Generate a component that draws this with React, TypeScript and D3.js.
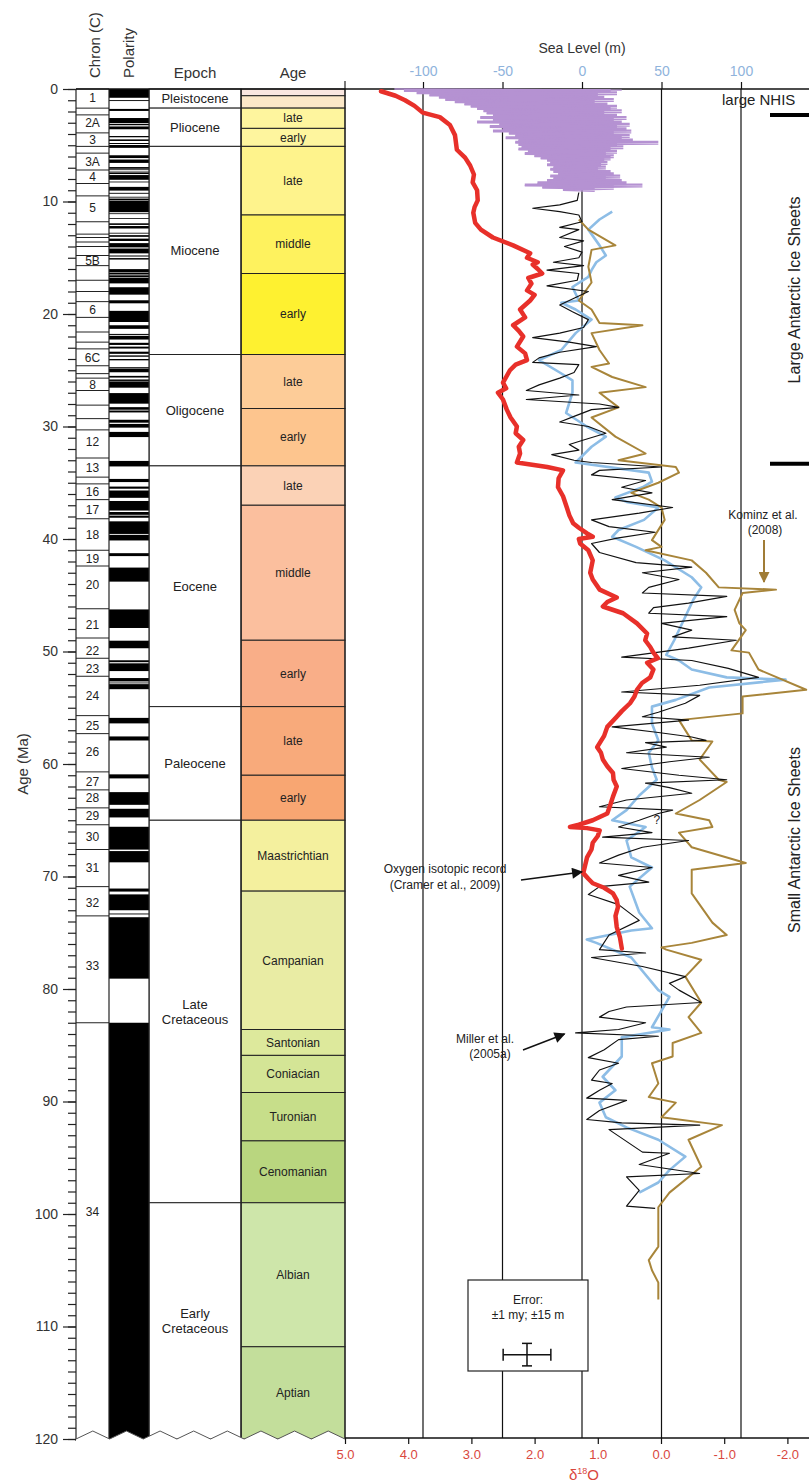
import { useEffect, useRef } from 'react';
import * as d3 from 'd3';

type Pt = [number, number];

// ---- time scale columns (ages in Ma) ----
const epochNames = ['Pleistocene', 'Pliocene', 'Miocene', 'Oligocene', 'Eocene', 'Paleocene', 'Late|Cretaceous', 'Early|Cretaceous'];
const epochBounds = [0, 1.7, 5.1, 23.6, 33.5, 54.9, 65.0, 99.0, 120];

const stageNames = ['', '', 'late', 'early', 'late', 'middle', 'early', 'late', 'early', 'late', 'middle', 'early', 'late', 'early',
  'Maastrichtian', 'Campanian', 'Santonian', 'Coniacian', 'Turonian', 'Cenomanian', 'Albian', 'Aptian'];
const stageBounds = [0, 0.6, 1.7, 3.5, 5.1, 11.2, 16.4, 23.6, 28.4, 33.5, 37.0, 49.0, 54.9, 61.0, 65.0, 71.3, 83.6, 85.9, 89.2, 93.5, 99.0, 111.8, 120];
const stageColors = ['#fae7e0', '#fce8c8', '#fef59e', '#fef59e', '#fef38c', '#fef25e', '#fef130', '#fdcc98', '#fdc58e', '#fbd2b6', '#fbbf9e',
  '#f9ae88', '#f8aa7b', '#f8a672', '#f4f09e', '#e9eca4', '#dde99c', '#d4e596', '#c7de8a', '#b9d67f', '#cee6aa', '#c3de9b'];

const chronBounds = [0, 1.7, 2.3, 3.9, 5.1, 5.7, 7.2, 8.4, 9.5, 11.8, 12.9, 13.2, 13.6, 14.0, 14.8, 15.7, 17.0, 18.0, 18.9, 20.3, 21.6,
  22.5, 23.1, 24.6, 25.3, 25.7, 26.8, 28.1, 29.3, 30.3, 32.8, 34.5, 35.1, 36.5, 38.2, 41.0, 42.4, 46.2, 48.8, 50.6, 52.2, 55.7, 57.3,
  60.7, 62.3, 63.9, 65.4, 67.6, 70.9, 73.5, 83.0, 120];
const chronLabels = ['1', '2A', '3', '3A', '4', '5', '5B', '6', '6C', '8', '12', '13', '16', '17', '18', '19', '20', '21', '22', '23',
  '24', '25', '26', '27', '28', '29', '30', '31', '32', '33', '34'];
const chronLabelAges = [0.8, 3.0, 4.5, 6.5, 7.8, 10.6, 15.3, 19.6, 23.9, 26.3, 31.4, 33.7, 35.8, 37.4, 39.6, 41.8, 44.1, 47.6, 49.9, 51.5,
  53.9, 56.6, 58.9, 61.6, 63.0, 64.6, 66.5, 69.2, 72.3, 77.9, 99.8];

// normal polarity intervals [top, bottom] in Ma
const normalPolarity: Pt[] = [[0, 0.78], [0.99, 1.07], [1.77, 1.95], [2.58, 3.04], [3.11, 3.22], [3.33, 3.58], [4.18, 4.29], [4.48, 4.62],
  [4.8, 4.89], [4.98, 5.23], [5.89, 6.14], [6.27, 6.57], [6.94, 7.09], [7.14, 7.17], [7.34, 7.38], [7.43, 7.56], [7.65, 8.07], [8.23, 8.26],
  [8.7, 9.03], [9.23, 9.31], [9.58, 9.64], [9.74, 9.88], [9.92, 10.95], [11.05, 11.1], [11.48, 11.53], [11.94, 12.08], [12.18, 12.4],
  [12.78, 12.82], [12.99, 13.14], [13.3, 13.51], [13.7, 14.08], [14.18, 14.61], [14.8, 14.89], [15.03, 15.16], [16.01, 16.29], [16.33, 16.49],
  [16.56, 16.73], [16.78, 17.28], [17.62, 18.28], [18.78, 19.05], [19.72, 20.71], [21.0, 21.32], [21.77, 21.86], [21.94, 22.27], [22.56, 22.75],
  [22.9, 23.07], [23.35, 23.54], [23.68, 23.8], [24.0, 24.12], [24.73, 24.78], [24.84, 25.18], [25.5, 25.65], [25.82, 25.95], [25.99, 26.55],
  [27.03, 27.97], [28.28, 28.51], [28.58, 28.75], [29.4, 29.66], [29.77, 30.1], [30.48, 30.94], [33.06, 33.55], [34.66, 34.94], [35.34, 35.53],
  [35.69, 36.34], [36.62, 37.47], [37.6, 37.85], [37.92, 38.11], [38.43, 39.55], [39.63, 40.13], [41.26, 41.52], [42.54, 43.79], [46.26, 47.91],
  [49.04, 49.71], [50.78, 50.95], [51.05, 51.74], [52.36, 52.66], [52.76, 52.8], [52.9, 53.35], [55.9, 56.39], [57.55, 57.91], [60.92, 61.28],
  [62.5, 63.63], [63.98, 64.75], [65.58, 67.61], [67.74, 68.74], [71.07, 71.34], [71.59, 73.0], [73.29, 73.37], [73.62, 79.08], [83.0, 120]];

// ---- curves ----
// Plio-Pleistocene sea level: age, low stand, high stand (m)
const purpleAge = [0, 0.2, 0.4, 0.6, 0.8, 1.0, 1.2, 1.4, 1.6, 1.8, 2.0, 2.2, 2.4, 2.6, 2.8, 3.0, 3.2, 3.4, 3.6, 3.8, 4.0, 4.2, 4.4, 4.6,
  4.8, 5.0, 5.2, 5.4, 5.6, 5.8, 6.0, 6.2, 6.4, 6.6, 6.8, 7.0, 7.2, 7.4, 7.6, 7.8, 8.0, 8.2, 8.4, 8.6, 8.8, 9.0];
const purpleLow = [-118, -112, -104, -96, -90, -86, -80, -74, -70, -66, -62, -60, -56, -64, -56, -66, -52, -58, -50, -56, -46, -42, -48, -40,
  -42, -40, -38, -40, -34, -36, -30, -26, -22, -20, -22, -18, -20, -18, -15, -20, -18, -22, -28, -36, -25, -12];
const purpleHigh = [25, 18, 22, 10, 14, 20, 8, 16, 22, 18, 25, 14, 22, 28, 20, 25, 30, 22, 28, 31, 20, 30, 25, 32,
  48, 22, 26, 18, 22, 15, 20, 18, 14, 16, 12, 15, 10, 18, 20, 24, 15, 25, 28, 38, 20, 8];

// Miller et al. (2005a) sea level (Ma, m)
const millerSeries: Pt[] = [[9.2, -2], [9.9, -3], [10.3, -14], [10.6, -31], [10.9, -14], [11.2, -2], [11.8, 0], [12.3, -14], [12.5, -2],
  [13.2, -14], [13.5, 1], [14.0, -11], [14.5, 0], [15.0, -2], [15.4, -18], [15.7, 1], [16.1, -22], [16.4, -2], [17.0, -3], [17.5, -22],
  [18.0, 4], [18.6, -5], [19.2, -14], [19.8, -6], [20.5, 4], [21.2, 1], [21.7, -14], [22.1, -31], [22.5, -8], [22.9, 9], [23.4, -14],
  [23.9, -27], [24.3, -31], [24.5, -2], [25.2, -5], [25.7, -14], [26.3, -27], [26.8, -35], [27.2, -2], [27.6, -35], [28.0, 11], [28.3, 23],
  [28.5, 6], [29.1, -5], [29.6, -14], [30.0, 4], [30.6, 15], [31.2, 1], [31.6, -8], [32.1, -2], [32.5, -19], [33.0, -5], [33.2, 6],
  [33.6, 50], [33.9, 11], [34.3, 6], [34.8, 40], [35.4, 25], [35.9, 44], [36.5, 19], [37.2, 57], [37.7, 36], [38.3, 6], [38.9, 17],
  [39.4, 46], [39.9, 23], [40.4, 6], [41.2, 11], [42.1, 34], [42.5, 69], [43.0, 38], [43.6, 61], [44.3, 42], [44.8, 38], [45.1, 91],
  [45.7, 67], [46.1, 45], [46.6, 42], [46.9, 91], [47.5, 50], [48.1, 69], [48.7, 57], [49.0, 97], [49.7, 67], [50.5, 25], [50.8, 69],
  [51.5, 92], [52.3, 111], [53.0, 74], [53.6, 25], [53.9, 74], [54.6, 65], [55.4, 48], [55.8, 38], [56.1, 67], [56.7, 19], [57.2, 48],
  [57.6, 69], [57.9, 78], [58.1, 40], [58.5, 53], [59.0, 28], [59.4, 80], [59.8, 55], [60.4, 25], [61.0, 61], [61.4, 91], [61.7, 40],
  [62.1, 55], [62.6, 69], [63.2, 28], [63.8, 11], [64.1, 57], [64.4, 48], [65.0, 36], [65.6, 23], [66.1, 44], [66.5, 13], [66.8, 67],
  [67.4, 38], [68.1, 23], [68.8, 11], [69.2, 44], [69.9, 23], [70.5, 42], [70.9, 11], [71.6, 4], [72.5, 23], [73.9, 36], [75.2, 17],
  [76.5, 11], [76.8, 40], [77.2, 6], [78.0, 38], [78.9, 65], [79.5, 55], [80.1, 61], [81.2, 75], [81.6, 28], [82.0, 17], [82.5, 11],
  [83.0, 40], [83.6, 23], [83.9, -4], [84.2, 48], [84.5, 23], [85.4, 14], [86.1, 4], [86.6, 23], [87.2, 11], [88.1, 6], [88.4, 19],
  [89.0, 11], [89.7, 3], [89.9, 28], [90.8, 11], [91.6, 3], [91.9, 25], [92.1, 74], [92.5, 17], [94.5, 38], [94.6, 55], [95.6, 36],
  [96.4, 74], [96.7, 28], [97.9, 36], [99.3, 28], [99.5, 46]];

// second (blue) sea-level estimate (Ma, m)
const blueSeries: Pt[] = [[10.9, 19], [11.6, 11], [12.5, 4], [13.9, 11], [14.8, 15], [15.4, 9], [16.1, 6], [16.7, 4], [17.6, -6], [18.8, -2],
  [19.0, -13], [19.6, -4], [20.5, 6], [21.7, -4], [23.2, -13], [24.1, -27], [25.2, -14], [25.9, -6], [27.0, -6], [28.8, -10], [30.0, 3],
  [30.9, 15], [31.8, 6], [33.2, -4], [34.1, 42], [34.9, 44], [35.4, 38], [36.3, 21], [36.7, 28], [37.2, 48], [38.3, 39], [39.2, 23],
  [39.8, 19], [40.7, 34], [41.9, 52], [43.4, 69], [44.3, 75], [45.4, 70], [47.2, 64], [49.0, 58], [50.3, 53], [50.8, 61], [51.6, 69],
  [52.3, 91], [52.5, 128], [53.2, 80], [54.3, 59], [54.9, 44], [56.4, 44], [57.9, 48], [59.0, 42], [60.3, 44], [61.4, 47], [62.8, 36],
  [64.1, 28], [65.0, 19], [65.6, 40], [66.8, 28], [68.3, 31], [69.2, 44], [70.9, 30], [73.2, 36], [74.6, 44], [74.8, 31], [75.6, 3],
  [75.9, 9], [77.2, 31], [80.1, 48], [80.7, 55], [83.4, 44], [83.6, 55], [84.3, 25], [86.0, 25], [87.8, 13], [89.0, 21], [90.1, 11],
  [91.4, 15], [92.3, 28], [93.4, 48], [94.9, 65], [96.1, 55], [97.2, 48], [98.1, 36]];

// Kominz et al. (2008) sea level (Ma, m)
const kominzSeries: Pt[] = [[11.6, -2], [12.5, 4], [13.9, 21], [14.3, 6], [15.8, 4], [17.2, 6], [18.8, -2], [19.6, 6], [20.8, 11], [21.0, 38],
  [21.7, 6], [23.2, 11], [24.4, 17], [24.7, 6], [25.6, 19], [26.5, 40], [27.0, 11], [28.3, 23], [29.2, 6], [30.9, 21], [32.4, 40], [33.0, 23],
  [33.6, 59], [34.1, 61], [35.0, 48], [35.9, 31], [36.5, 42], [37.2, 50], [38.3, 52], [40.1, 44], [40.7, 50], [41.0, 40], [41.9, 69],
  [43.0, 78], [44.3, 86], [44.5, 122], [44.8, 101], [46.3, 96], [47.5, 99], [48.1, 103], [49.9, 94], [50.1, 105], [51.6, 111], [53.4, 141],
  [54.0, 101], [55.5, 101], [56.1, 61], [57.9, 69], [58.0, 82], [59.6, 74], [61.4, 86], [61.6, 91], [63.2, 74], [64.4, 59], [65.0, 80],
  [65.6, 82], [66.1, 61], [67.4, 69], [68.8, 103], [69.4, 69], [71.5, 69], [74.1, 82], [75.2, 91], [75.9, 69], [76.3, 50], [76.5, 53],
  [77.4, 75], [78.9, 65], [81.2, 75], [82.5, 67], [83.9, 75], [84.8, 57], [86.0, 57], [86.6, 44], [88.4, 48], [89.6, 42], [90.1, 59],
  [91.4, 50], [92.1, 88], [93.4, 67], [95.8, 75], [98.1, 55], [99.4, 48], [102.9, 48], [104.1, 42], [105.0, 44], [106.1, 48], [107.6, 48]];

// Cramer et al. (2009) benthic d18O (Ma, per mil)
const cramerSeries: Pt[] = [[0.2, 4.43], [0.6, 4.2], [1.0, 4.05], [1.5, 3.9], [2.1, 3.77], [2.5, 3.5], [3.2, 3.34], [4.1, 3.26], [5.4, 3.23],
  [6.1, 3.1], [6.8, 3.02], [7.6, 2.96], [8.3, 2.98], [9.0, 2.91], [9.9, 2.9], [10.5, 2.95], [11.0, 2.97], [11.9, 2.94], [12.5, 2.85],
  [13.2, 2.66], [13.9, 2.34], [14.6, 2.07], [15.0, 2.12], [15.4, 1.95], [15.6, 2.03], [16.0, 1.95], [16.4, 1.88], [16.8, 2.1], [17.3, 2.05],
  [17.9, 2.12], [18.3, 2.0], [18.8, 2.07], [19.6, 2.23], [20.3, 2.15], [21.0, 2.34], [21.5, 2.25], [22.0, 2.18], [22.9, 2.28], [23.5, 2.15],
  [24.1, 2.12], [24.5, 2.3], [25.0, 2.39], [25.6, 2.45], [26.1, 2.5], [26.6, 2.45], [27.0, 2.58], [27.6, 2.5], [28.5, 2.44], [29.2, 2.38],
  [30.0, 2.28], [30.6, 2.3], [31.2, 2.18], [31.8, 2.25], [32.4, 2.23], [33.2, 2.28], [33.6, 1.8], [33.9, 1.55], [34.6, 1.62], [35.4, 1.63],
  [36.2, 1.55], [37.2, 1.49], [37.9, 1.45], [38.6, 1.39], [39.0, 1.3], [39.5, 1.17], [39.8, 1.08], [40.0, 1.3], [40.4, 1.28], [41.0, 1.15],
  [41.9, 1.08], [43.0, 1.12], [43.6, 1.08], [44.5, 0.97], [45.2, 0.7], [45.6, 0.85], [46.0, 0.92], [46.6, 0.6], [47.5, 0.38], [48.4, 0.22],
  [49.0, 0.25], [49.6, 0.17], [50.1, 0.12], [50.6, 0.05], [51.0, 0.22], [51.6, 0.12], [52.3, 0.17], [52.8, 0.3], [53.4, 0.38], [54.0, 0.42],
  [54.6, 0.49], [55.3, 0.62], [55.8, 0.7], [56.7, 0.85], [57.5, 0.9], [58.5, 1.01], [59.0, 0.95], [59.6, 0.92], [60.2, 0.85], [60.8, 0.76],
  [61.4, 0.75], [62.0, 0.7], [62.9, 0.76], [63.6, 0.8], [64.4, 0.85], [65.0, 1.08], [65.4, 1.3], [65.6, 1.44], [65.7, 1.17], [65.9, 0.97],
  [66.4, 1.0], [67.0, 1.08], [67.6, 1.1], [68.3, 1.17], [69.0, 1.2], [69.7, 1.23], [70.2, 1.15], [70.6, 1.08], [71.0, 0.9], [71.5, 0.76],
  [72.1, 0.7], [72.7, 0.68], [73.5, 0.72], [74.5, 0.7], [75.4, 0.65], [76.4, 0.62]];

const ageTicks = d3.range(0, 121, 10);
const seaTicks = [-100, -50, 0, 50, 100];
const isoTicks = [5, 4, 3, 2, 1, 0, -1, -2];

export default function App() {
  const svgRef = useRef<SVGSVGElement | null>(null);

  useEffect(() => {
    document.body.style.margin = '0';
    const svgEl = svgRef.current;
    if (!svgEl) return;
    const font = "'Liberation Sans', Arial, Helvetica, sans-serif";
    const svg = d3.select(svgEl);
    svg.selectAll('*').remove();
    svg.attr('font-family', font);

    const y = d3.scaleLinear().domain([0, 120]).range([89, 1439]);
    const xSea = d3.scaleLinear().domain([-100, 100]).range([423, 741]);
    const xIso = d3.scaleLinear().domain([5, 0]).range([345, 661]);

    const cx0 = 76, cx1 = 109, px1 = 149, ex1 = 241, ax1 = 345, right = 809;
    const base = 1438;

    const defs = svg.append('defs');
    const mk = (id: string, color: string) =>
      defs.append('marker').attr('id', id).attr('viewBox', '0 0 10 10').attr('refX', 9).attr('refY', 5)
        .attr('markerWidth', 14).attr('markerHeight', 11).attr('markerUnits', 'userSpaceOnUse').attr('orient', 'auto')
        .append('path').attr('d', 'M0,0 L10,5 L0,10 z').attr('fill', color);
    mk('arrK', '#a07c36');
    mk('arrB', '#111');

    // ---- age (stage) column ----
    const stages = stageNames.map((name, i) => ({ name, a0: stageBounds[i], a1: stageBounds[i + 1], color: stageColors[i] }));
    const gAge = svg.append('g');
    gAge.selectAll('rect').data(stages).join('rect')
      .attr('x', ex1).attr('width', ax1 - ex1)
      .attr('y', (d) => y(d.a0)).attr('height', (d) => y(d.a1) - y(d.a0))
      .attr('fill', (d) => d.color).attr('stroke', '#222').attr('stroke-width', 1);
    gAge.selectAll('text').data(stages.filter((d) => d.name)).join('text')
      .attr('x', (ex1 + ax1) / 2).attr('y', (d) => (y(d.a0) + y(d.a1)) / 2).attr('dy', '0.35em')
      .attr('text-anchor', 'middle').attr('font-size', 12).attr('fill', '#222').text((d) => d.name);

    // ---- epoch column ----
    const epochs = epochNames.map((name, i) => ({ name, a0: epochBounds[i], a1: epochBounds[i + 1] }));
    const gEp = svg.append('g');
    gEp.selectAll('rect').data(epochs).join('rect')
      .attr('x', px1).attr('width', ex1 - px1)
      .attr('y', (d) => y(d.a0)).attr('height', (d) => y(d.a1) - y(d.a0))
      .attr('fill', '#fff').attr('stroke', '#222').attr('stroke-width', 1);
    epochs.forEach((d) => {
      const lines = d.name.split('|');
      const mid = (y(d.a0) + y(d.a1)) / 2;
      const t = gEp.append('text').attr('text-anchor', 'middle').attr('font-size', 13).attr('fill', '#222');
      lines.forEach((ln, k) => {
        t.append('tspan').attr('x', (px1 + ex1) / 2)
          .attr('y', mid + (k - (lines.length - 1) / 2) * 15).attr('dy', '0.35em').text(ln);
      });
    });

    // ---- polarity column ----
    const gPol = svg.append('g');
    gPol.append('rect').attr('x', cx1).attr('y', y(0)).attr('width', px1 - cx1).attr('height', y(120) - y(0)).attr('fill', '#fff');
    gPol.selectAll('rect.n').data(normalPolarity).join('rect').attr('class', 'n')
      .attr('x', cx1).attr('width', px1 - cx1)
      .attr('y', (d) => y(d[0])).attr('height', (d) => Math.max(0.8, y(d[1]) - y(d[0])))
      .attr('fill', '#000');

    // ---- chron column ----
    const gCh = svg.append('g');
    gCh.append('rect').attr('x', cx0).attr('y', y(0)).attr('width', cx1 - cx0).attr('height', y(120) - y(0)).attr('fill', '#fff');
    gCh.selectAll('line').data(chronBounds).join('line')
      .attr('x1', cx0).attr('x2', cx1).attr('y1', (d) => y(d)).attr('y2', (d) => y(d))
      .attr('stroke', '#222').attr('stroke-width', 1);
    gCh.selectAll('text').data(chronLabels).join('text')
      .attr('x', (cx0 + cx1) / 2).attr('y', (_, i) => y(chronLabelAges[i])).attr('dy', '0.35em')
      .attr('text-anchor', 'middle').attr('font-size', 12).attr('fill', '#222').text((d) => d);

    // column borders
    [cx0, cx1, px1, ex1].forEach((x) => {
      svg.append('line').attr('x1', x).attr('x2', x).attr('y1', y(0)).attr('y2', y(120) + 2)
        .attr('stroke', '#222').attr('stroke-width', 1.2);
    });
    svg.append('line').attr('x1', ax1).attr('x2', ax1).attr('y1', 81).attr('y2', y(120) + 2)
      .attr('stroke', '#222').attr('stroke-width', 1.2);

    // broken bottom edge (zigzag)
    const nZ = 16;
    const zig: Pt[] = d3.range(nZ + 1).map((i) => [cx0 + ((ax1 - cx0) * i) / nZ, i % 2 === 0 ? base + 1 : base - 7]);
    svg.append('path')
      .attr('d', d3.line()([...zig, [ax1 + 0.5, base + 12], [cx0 - 0.5, base + 12]]) + 'Z')
      .attr('fill', '#fff');
    svg.append('path').attr('d', d3.line()(zig)).attr('fill', 'none').attr('stroke', '#555').attr('stroke-width', 1);

    // ---- plot frame ----
    svg.append('line').attr('x1', cx0).attr('x2', right).attr('y1', y(0)).attr('y2', y(0)).attr('stroke', '#111').attr('stroke-width', 1.3);
    svg.append('line').attr('x1', ax1).attr('x2', right).attr('y1', base).attr('y2', base).attr('stroke', '#111').attr('stroke-width', 1.3);
    svg.append('g').selectAll('line').data(seaTicks).join('line')
      .attr('x1', (d) => xSea(d)).attr('x2', (d) => xSea(d)).attr('y1', y(0)).attr('y2', base)
      .attr('stroke', '#111').attr('stroke-width', 1.2);

    // left age axis
    const gMinor = svg.append('g').attr('transform', `translate(${cx0},0)`)
      .call(d3.axisLeft(y).tickValues(d3.range(0, 121, 1)).tickSize(8).tickFormat(() => ''));
    gMinor.select('.domain').remove();
    gMinor.selectAll('line').attr('stroke', '#222').attr('stroke-width', 1.2);
    const gL = svg.append('g').attr('transform', `translate(${cx0},0)`)
      .call(d3.axisLeft(y).tickValues(ageTicks).tickSize(13).tickPadding(5).tickFormat((d) => String(d)));
    gL.select('.domain').remove();
    gL.selectAll('line').attr('stroke', '#222').attr('stroke-width', 1.2);
    gL.selectAll('text').attr('font-size', 14).attr('fill', '#333').attr('font-family', font);
    svg.append('text').attr('transform', `translate(28,${(y(0) + y(120)) / 2}) rotate(-90)`)
      .attr('text-anchor', 'middle').attr('font-size', 15).attr('fill', '#333').text('Age (Ma)');

    // top sea-level axis
    const gT = svg.append('g').attr('transform', `translate(0,${y(0)})`)
      .call(d3.axisTop(xSea).tickValues(seaTicks).tickSize(7).tickPadding(6).tickFormat((d) => String(d)));
    gT.select('.domain').remove();
    gT.selectAll('line').attr('stroke', '#111').attr('stroke-width', 1.2);
    gT.selectAll('text').attr('font-size', 14).attr('fill', '#8fb3dc').attr('font-family', font);
    svg.append('text').attr('x', xSea(0)).attr('y', 53).attr('text-anchor', 'middle')
      .attr('font-size', 14).attr('fill', '#333').text('Sea Level (m)');

    // bottom d18O axis
    const gB = svg.append('g').attr('transform', `translate(0,${base})`)
      .call(d3.axisBottom(xIso).tickValues(isoTicks).tickSize(6).tickPadding(6).tickFormat((d) => (+d).toFixed(1)));
    gB.select('.domain').remove();
    gB.selectAll('line').attr('stroke', '#111').attr('stroke-width', 1.2);
    gB.selectAll('text').attr('font-size', 13).attr('fill', '#d9473d').attr('font-family', font);
    const dT = svg.append('text').attr('x', xSea(0) + 2).attr('y', 1480).attr('text-anchor', 'middle')
      .attr('font-size', 15).attr('fill', '#d9473d');
    dT.append('tspan').text('δ');
    dT.append('tspan').attr('font-size', 9).attr('dy', -6).text('18');
    dT.append('tspan').attr('dy', 6).text('O');

    // column headers
    svg.append('text').attr('transform', `translate(100,78) rotate(-90)`).attr('font-size', 15).attr('fill', '#333').text('Chron (C)');
    svg.append('text').attr('transform', `translate(134,78) rotate(-90)`).attr('font-size', 15).attr('fill', '#333').text('Polarity');
    svg.append('text').attr('x', (px1 + ex1) / 2).attr('y', 78).attr('text-anchor', 'middle').attr('font-size', 15).attr('fill', '#333').text('Epoch');
    svg.append('text').attr('x', (ex1 + ax1) / 2).attr('y', 78).attr('text-anchor', 'middle').attr('font-size', 15).attr('fill', '#333').text('Age');

    // ---- curves ----
    const seaLine = d3.line<Pt>().x((d) => xSea(d[1])).y((d) => y(d[0]));
    const isoLine = d3.line<Pt>().x((d) => xIso(d[1])).y((d) => y(d[0]));

    // Plio-Pleistocene record: banded area between low and high stands, plus a zigzag trace
    const purpleArea = d3.area<number>()
      .y((_, i) => y(purpleAge[i]))
      .x0((_, i) => xSea(purpleLow[i]))
      .x1((_, i) => xSea(purpleHigh[i]))
      .curve(d3.curveStepAfter);
    svg.append('path').attr('d', purpleArea(purpleAge)).attr('fill', '#b592d2').attr('stroke', 'none');
    const purplePts: Pt[] = [];
    purpleAge.forEach((a, i) => {
      purplePts.push([a, purpleLow[i]]);
      purplePts.push([a + 0.1, purpleHigh[i]]);
    });
    svg.append('path').attr('d', seaLine(purplePts)).attr('fill', 'none')
      .attr('stroke', '#b592d2').attr('stroke-width', 1.4);

    svg.append('path').attr('d', seaLine(blueSeries)).attr('fill', 'none')
      .attr('stroke', '#8dbde6').attr('stroke-width', 2.6).attr('stroke-linejoin', 'round');
    svg.append('path').attr('d', seaLine(kominzSeries)).attr('fill', 'none')
      .attr('stroke', '#a8853a').attr('stroke-width', 2).attr('stroke-linejoin', 'round');
    svg.append('path').attr('d', seaLine(millerSeries)).attr('fill', 'none')
      .attr('stroke', '#111').attr('stroke-width', 1.2).attr('stroke-linejoin', 'round');
    svg.append('path').attr('d', isoLine(cramerSeries)).attr('fill', 'none')
      .attr('stroke', '#e8302a').attr('stroke-width', 4.5).attr('stroke-linejoin', 'round').attr('stroke-linecap', 'round');

    // ---- annotations ----
    const txt = (x: number, yy: number, s: string, size = 12, anchor = 'middle', color = '#222') =>
      svg.append('text').attr('x', x).attr('y', yy).attr('text-anchor', anchor).attr('font-size', size).attr('fill', color).text(s);

    txt(763, 519, 'Kominz et al.');
    txt(765, 534, '(2008)');
    svg.append('line').attr('x1', 764).attr('x2', 764).attr('y1', 540).attr('y2', 582)
      .attr('stroke', '#a07c36').attr('stroke-width', 2).attr('marker-end', 'url(#arrK)');

    txt(445, 873, 'Oxygen isotopic record');
    txt(445, 889, '(Cramer et al., 2009)');
    svg.append('line').attr('x1', 521).attr('y1', 880).attr('x2', xIso(1.25)).attr('y2', y(69.6))
      .attr('stroke', '#111').attr('stroke-width', 1.5).attr('marker-end', 'url(#arrB)');

    txt(485, 1043, 'Miller et al.');
    txt(490, 1058, '(2005a)');
    svg.append('line').attr('x1', 523).attr('y1', 1050).attr('x2', xSea(-11)).attr('y2', y(84.0))
      .attr('stroke', '#111').attr('stroke-width', 1.5).attr('marker-end', 'url(#arrB)');

    txt(xSea(47), 824, '?', 12);

    // right-hand ice sheet labels
    txt(722, 105, 'large NHIS', 15, 'start', '#222');
    svg.append('line').attr('x1', 770).attr('x2', right).attr('y1', 115).attr('y2', 115).attr('stroke', '#000').attr('stroke-width', 4);
    svg.append('line').attr('x1', 770).attr('x2', right).attr('y1', y(33.3)).attr('y2', y(33.3)).attr('stroke', '#000').attr('stroke-width', 4);
    svg.append('text').attr('transform', `translate(800,290) rotate(-90)`).attr('text-anchor', 'middle')
      .attr('font-size', 16).attr('fill', '#222').text('Large Antarctic Ice Sheets');
    svg.append('text').attr('transform', `translate(800,840) rotate(-90)`).attr('text-anchor', 'middle')
      .attr('font-size', 16).attr('fill', '#222').text('Small Antarctic Ice Sheets');

    // error box
    svg.append('rect').attr('x', 468).attr('y', 1280).attr('width', 120).attr('height', 91)
      .attr('fill', '#fff').attr('stroke', '#222').attr('stroke-width', 1.2);
    txt(528, 1304, 'Error:', 12);
    txt(528, 1319, '±1 my; ±15 m', 12);
    const ec = { x: 527, age: 112.5 };
    const eg = svg.append('g').attr('stroke', '#111').attr('stroke-width', 1.5);
    const hx0 = ec.x - (xSea(15) - xSea(0)), hx1 = ec.x + (xSea(15) - xSea(0));
    const vy0 = y(ec.age - 1), vy1 = y(ec.age + 1), cy = y(ec.age);
    eg.append('line').attr('x1', hx0).attr('x2', hx1).attr('y1', cy).attr('y2', cy);
    eg.append('line').attr('x1', hx0).attr('x2', hx0).attr('y1', cy - 6).attr('y2', cy + 6);
    eg.append('line').attr('x1', hx1).attr('x2', hx1).attr('y1', cy - 6).attr('y2', cy + 6);
    eg.append('line').attr('x1', ec.x).attr('x2', ec.x).attr('y1', vy0).attr('y2', vy1);
    eg.append('line').attr('x1', ec.x - 5).attr('x2', ec.x + 5).attr('y1', vy0).attr('y2', vy0);
    eg.append('line').attr('x1', ec.x - 5).attr('x2', ec.x + 5).attr('y1', vy1).attr('y2', vy1);
  }, []);

  return <svg ref={svgRef} width={809} height={1483} style={{ display: 'block', background: '#fff' }} />;
}
